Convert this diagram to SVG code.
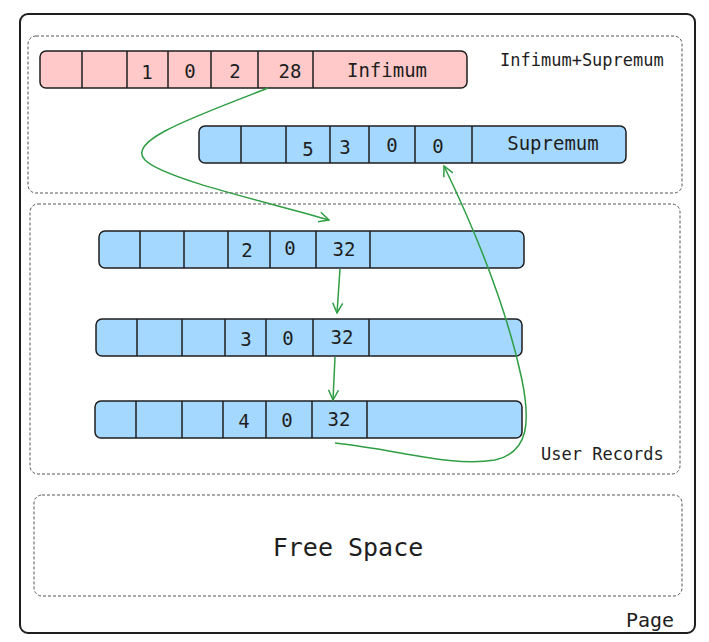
<svg xmlns="http://www.w3.org/2000/svg" width="709" height="642" viewBox="0 0 709 642">
<defs>
<style>
.page{fill:#fff;stroke:#1e1e1e;stroke-width:2}
.area{fill:none;stroke:#555;stroke-width:1;stroke-dasharray:3 2}
.pink{fill:#ffc9c9;stroke:#1e1e1e;stroke-width:1.5}
.blue{fill:#a5d8ff;stroke:#1e1e1e;stroke-width:1.5}
.div{stroke:#1e1e1e;stroke-width:1.5}
.t{font-family:"DejaVu Sans Mono","Liberation Mono",monospace;fill:#1e1e1e;font-size:19px;text-anchor:middle}
.lbl{font-family:"DejaVu Sans Mono","Liberation Mono",monospace;fill:#1e1e1e;font-size:17px}
.conn{fill:none;stroke:#2f9e44;stroke-width:1.5}
</style>
<marker id="ah" viewBox="0 0 12 12" refX="11" refY="6" markerWidth="12" markerHeight="12" markerUnits="userSpaceOnUse" orient="auto">
<path d="M1,1 L11,6 L1,11" fill="none" stroke="#2f9e44" stroke-width="1.5"/>
</marker>
</defs>
<g id="page">
<rect class="page" x="20" y="14" width="675" height="619" rx="8"/>
<text class="lbl" x="626" y="627" style="font-size:20px">Page</text>
</g>
<g id="infsup-area">
<rect class="area" x="28" y="36" width="654" height="157" rx="8"/>
<text class="lbl" x="500" y="66">Infimum+Supremum</text>
</g>
<g id="user-area">
<rect class="area" x="30" y="204" width="650" height="270" rx="8"/>
<text class="lbl" x="541" y="460">User Records</text>
</g>
<g id="free-space">
<rect class="area" x="34" y="495" width="648" height="101" rx="8"/>
<text class="t" x="348" y="556" style="font-size:25px">Free Space</text>
</g>
<g id="infimum">
<rect class="pink" x="40" y="51" width="427" height="37" rx="6"/>
<path class="div" d="M82,51V88M127,51V88M168,51V88M211,51V88M258,51V88M313,51V88"/>
<text class="t" x="147" y="79">1</text>
<text class="t" x="190" y="78">0</text>
<text class="t" x="235" y="78">2</text>
<text class="t" x="290" y="78">28</text>
<text class="t" x="387" y="77">Infimum</text>
</g>
<g id="supremum">
<rect class="blue" x="199" y="126" width="427" height="37" rx="6"/>
<path class="div" d="M241,126V163M286,126V163M330,126V163M369,126V163M415,126V163M472,126V163"/>
<text class="t" x="308" y="156">5</text>
<text class="t" x="345" y="154">3</text>
<text class="t" x="392" y="152">0</text>
<text class="t" x="438" y="153">0</text>
<text class="t" x="553" y="150">Supremum</text>
</g>
<g id="rec1">
<rect class="blue" x="99" y="231" width="425" height="37" rx="6"/>
<path class="div" d="M140,231V268M184,231V268M228,231V268M270,231V268M316,231V268M370,231V268"/>
<text class="t" x="247" y="257">2</text>
<text class="t" x="290" y="255">0</text>
<text class="t" x="344" y="256">32</text>
</g>
<g id="rec2">
<rect class="blue" x="96" y="319" width="426" height="37" rx="6"/>
<path class="div" d="M137,319V356M182,319V356M225,319V356M266,319V356M313,319V356M369,319V356"/>
<text class="t" x="246" y="346">3</text>
<text class="t" x="288" y="345">0</text>
<text class="t" x="342" y="344">32</text>
</g>
<g id="rec3">
<rect class="blue" x="95" y="401" width="427" height="37" rx="6"/>
<path class="div" d="M136,401V438M182,401V438M223,401V438M266,401V438M312,401V438M367,401V438"/>
<text class="t" x="244" y="428">4</text>
<text class="t" x="287" y="427">0</text>
<text class="t" x="339" y="426">32</text>
</g>
<g id="connectors">
<path class="conn" marker-end="url(#ah)" d="M268,88 C200,115 125,140 145,160 C165,180 280,205 329,220"/>
<path class="conn" marker-end="url(#ah)" d="M340,269 L337,313"/>
<path class="conn" marker-end="url(#ah)" d="M335,357 L333,400"/>
<path class="conn" marker-end="url(#ah)" d="M335,443 C400,450 450,467 495,460 C530,452 530,420 522,380 C505,300 470,220 444,166"/>
</g>
</svg>
